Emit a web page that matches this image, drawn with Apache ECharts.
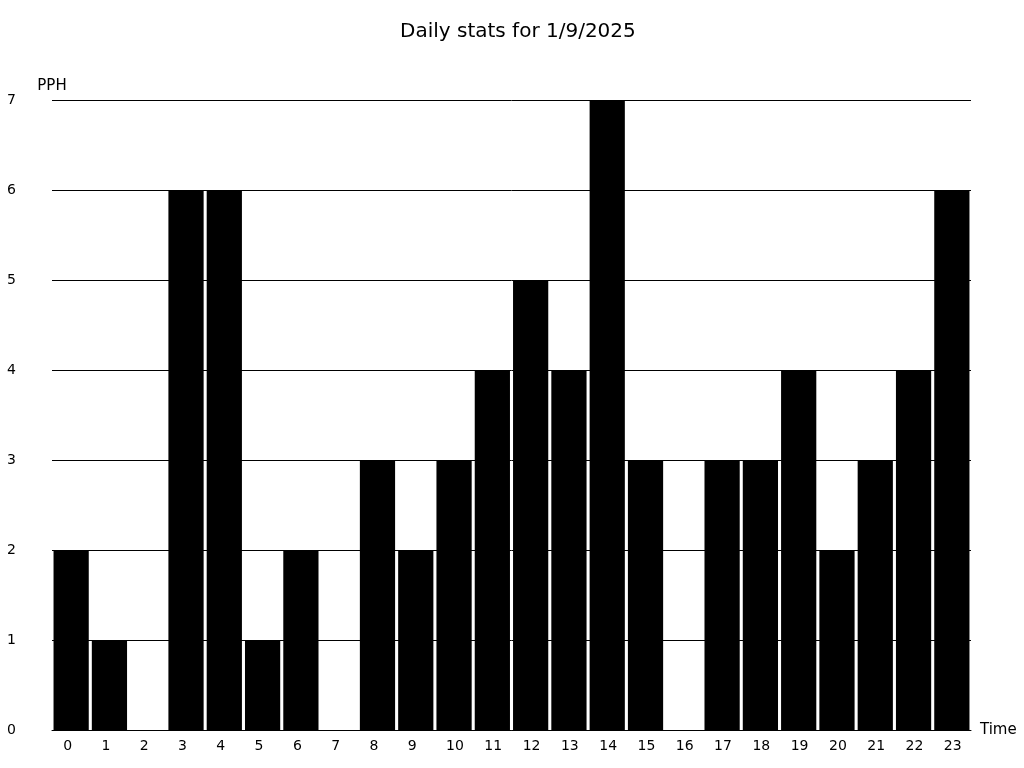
<!DOCTYPE html>
<html><head><meta charset="utf-8">
<script src="https://cdn.jsdelivr.net/npm/echarts@6/dist/echarts.min.js"></script>
<style>html,body{margin:0;padding:0;background:#fff}#c{width:1024px;height:768px}</style>
</head><body><div id="c"></div>
<script>
const categories = ['0','1','2','3','4','5','6','7','8','9','10','11','12','13','14','15','16','17','18','19','20','21','22','23'];
const pph = [2,1,0,6,6,1,2,0,3,2,3,4,5,4,7,3,0,3,3,4,2,3,4,6];
const titleText = 'Daily stats for 1/9/2025';
const font = 'DejaVu Sans';
const chart = echarts.init(document.getElementById('c'));
chart.setOption({
  animation: false,
  textStyle: {fontFamily: font},
  title: {text: titleText, left: 395, top: 17, textStyle: {fontFamily: font, fontSize: 20, fontWeight: 'normal', color: '#000'}},
  grid: {left: 52, right: 53, top: 100, bottom: 38},
  xAxis: {
    type: 'category', data: categories, name: 'Time', nameGap: 9,
    nameTextStyle: {color: '#000', fontSize: 15, fontFamily: font},
    axisLine: {lineStyle: {color: '#000', width: 1}},
    axisTick: {show: false},
    axisLabel: {color: '#000', fontSize: 14, margin: 9, fontFamily: font, align: 'left', padding: [0, 0, 0, -8]}
  },
  yAxis: {
    type: 'value', min: 0, max: 7, interval: 1, name: 'PPH', nameGap: 6,
    nameTextStyle: {color: '#000', fontSize: 15, fontFamily: font},
    axisLine: {show: false}, axisTick: {show: false},
    axisLabel: {color: '#000', fontSize: 14, margin: 36, fontFamily: font},
    splitLine: {lineStyle: {color: '#000', width: 1}}
  },
  series: [{type: 'bar', data: pph, barCategoryGap: '8%', itemStyle: {color: '#000'}}]
});
</script></body></html>
